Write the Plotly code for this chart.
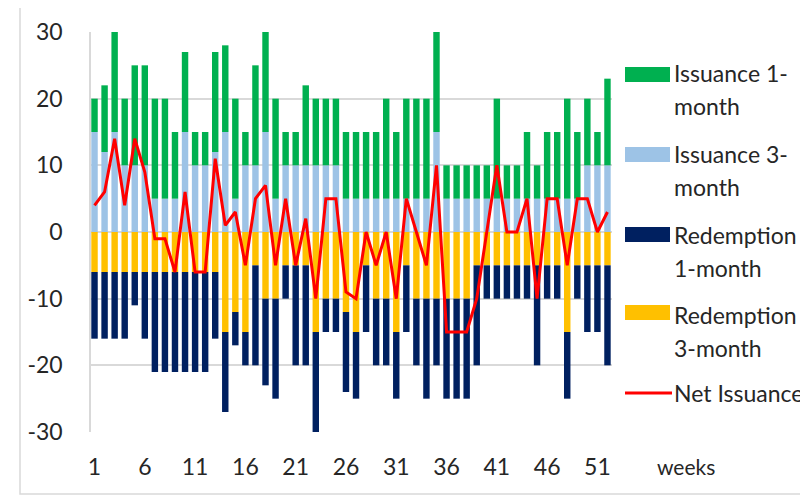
import plotly.graph_objects as go

weeks = list(range(1, 53))
issuance_1m = [5, 10, 15, 10, 15, 15, 15, 15, 10, 12,
               5, 5, 15, 13, 15, 5, 15, 15, 15, 5,
               5, 12, 10, 10, 10, 10, 10, 10, 10, 15,
               10, 15, 15, 15, 15, 5, 5, 5, 5, 5,
               15, 5, 5, 10, 5, 10, 10, 15, 10, 10,
               5, 13]
issuance_3m = [15, 12, 15, 10, 10, 10, 5, 5, 5, 15,
               10, 10, 12, 15, 5, 10, 10, 15, 5, 10,
               10, 10, 10, 10, 10, 5, 5, 5, 5, 5,
               5, 5, 5, 5, 15, 5, 5, 5, 5, 5,
               5, 5, 5, 5, 5, 5, 5, 5, 5, 10,
               10, 10]
redemption_3m = [-6, -6, -6, -6, -6, -6, -6, -6, -6, -6,
                 -6, -6, -6, -15, -12, -15, -5, -10, -10, -5,
                 -5, -5, -15, -10, -10, -12, -15, -5, -10, -10,
                 -15, -5, -10, -10, -10, -10, -10, -10, -5, -5,
                 -5, -5, -5, -5, -5, -5, -5, -15, -5, -5,
                 -5, -5]
redemption_1m = [-10, -10, -10, -10, -5, -10, -15, -15, -15, -15,
                 -15, -15, -10, -12, -5, -5, -15, -13, -15, -5,
                 -15, -15, -15, -5, -5, -12, -10, -10, -10, -10,
                 -10, -10, -10, -15, -10, -15, -15, -15, -15, -5,
                 -5, -5, -5, -5, -15, -5, -5, -10, -5, -10,
                 -10, -15]
net_issuance = [4, 6, 14, 4, 14, 9, -1, -1, -6, 6,
                -6, -6, 11, 1, 3, -5, 5, 7, -5, 5,
                -5, 2, -10, 5, 5, -9, -10, 0, -5, 0,
                -10, 5, 0, -5, 10, -15, -15, -15, -10, 0,
                10, 0, 0, 5, -10, 5, 5, -5, 5, 5,
                0, 3]
tick_weeks = [1, 6, 11, 16, 21, 26, 31, 36, 41, 46, 51]
y_ticks = [-30, -20, -10, 0, 10, 20, 30]

series_names = ["Issuance 1-month", "Issuance 3-month", "Redemption 1-month",
                "Redemption 3-month", "Net Issuance"]
legend_lines = [["Issuance 1-", "month"], ["Issuance 3-", "month"],
                ["Redemption", "1-month"], ["Redemption", "3-month"],
                ["Net Issuance"]]
GREEN, LBLUE, NAVY, YELLOW, RED = "#00B050", "#9DC3E6", "#002060", "#FFC000", "#FF0000"
colors = [GREEN, LBLUE, NAVY, YELLOW, RED]

# page body has an 8px margin: work in figure pixels = reference pixels - 8
OFF = 8
W, H = 800, 488
L, R, T, B = 91 - OFF, 612 - OFF, 32 - OFF, 432 - OFF
FONT = "Lato"
GRID = "#D9D9D9"
TXT = "#262626"

fig = go.Figure()
bw = 0.64
fig.add_trace(go.Bar(x=weeks, y=issuance_3m, name=series_names[1], marker_color=LBLUE,
                     width=bw, marker_line_width=0, showlegend=False))
fig.add_trace(go.Bar(x=weeks, y=issuance_1m, name=series_names[0], marker_color=GREEN,
                     width=bw, marker_line_width=0, showlegend=False))
fig.add_trace(go.Bar(x=weeks, y=redemption_3m, name=series_names[3], marker_color=YELLOW,
                     width=bw, marker_line_width=0, showlegend=False))
fig.add_trace(go.Bar(x=weeks, y=redemption_1m, name=series_names[2], marker_color=NAVY,
                     width=bw, marker_line_width=0, showlegend=False))
fig.add_trace(go.Scatter(x=weeks, y=net_issuance, name=series_names[4], mode="lines",
                         line=dict(color=RED, width=3), showlegend=False))


def px_x(p):  # reference pixel -> paper coordinate
    return (p - OFF - L) / (R - L)


def px_y(p):
    return (B - (p - OFF)) / (B - T)


shapes = []
annotations = []
# chart-area border
shapes.append(dict(type="rect", xref="paper", yref="paper",
                   x0=px_x(20), x1=px_x(830), y0=px_y(494), y1=px_y(6),
                   line=dict(color=GRID, width=1.5), fillcolor="rgba(0,0,0,0)", layer="below"))

sym_y = [74.5, 154.5, 234.5, 312.5]
text_y = [[73, 106], [154, 187], [235, 268], [315, 348], [393]]
for i in range(4):
    shapes.append(dict(type="rect", xref="paper", yref="paper",
                       x0=px_x(625), x1=px_x(670), y0=px_y(sym_y[i] + 7.5), y1=px_y(sym_y[i] - 7.5),
                       line=dict(width=0), fillcolor=colors[i]))
shapes.append(dict(type="line", xref="paper", yref="paper",
                   x0=px_x(625), x1=px_x(672), y0=px_y(393), y1=px_y(393),
                   line=dict(color=RED, width=3)))
for lines, ys in zip(legend_lines, text_y):
    for txt, yy in zip(lines, ys):
        annotations.append(dict(text=txt, xref="paper", yref="paper", x=px_x(672), y=px_y(yy),
                                xanchor="left", yanchor="middle", showarrow=False,
                                font=dict(family=FONT, size=23, color=TXT)))
annotations.append(dict(text="weeks", xref="paper", yref="paper", x=px_x(686), y=px_y(466),
                        xanchor="center", yanchor="middle", showarrow=False,
                        font=dict(family=FONT, size=21, color=TXT)))

fig.update_layout(
    width=W, height=H,
    margin=dict(l=L, r=W - R, t=T, b=H - B, pad=0),
    paper_bgcolor="white", plot_bgcolor="white",
    barmode="relative",
    font=dict(family=FONT, size=23, color=TXT),
    shapes=shapes, annotations=annotations,
    showlegend=False,
)
fig.update_xaxes(range=[0.65, 52.45], tickmode="array", tickvals=tick_weeks,
                 ticktext=[str(t) for t in tick_weeks], showgrid=False, zeroline=False,
                 showline=False, ticks="", ticklabelstandoff=19, automargin=False,
                 tickfont=dict(family=FONT, size=23, color=TXT))
fig.update_yaxes(range=[-30, 30], tickmode="array", tickvals=y_ticks,
                 ticktext=[str(t) for t in y_ticks], showgrid=True,
                 gridcolor=GRID, gridwidth=1.5, zeroline=False, showline=True,
                 linecolor=GRID, linewidth=1.5, ticks="", ticklabelstandoff=22, automargin=False,
                 tickfont=dict(family=FONT, size=23, color=TXT))

fig.write_html("out.html")
